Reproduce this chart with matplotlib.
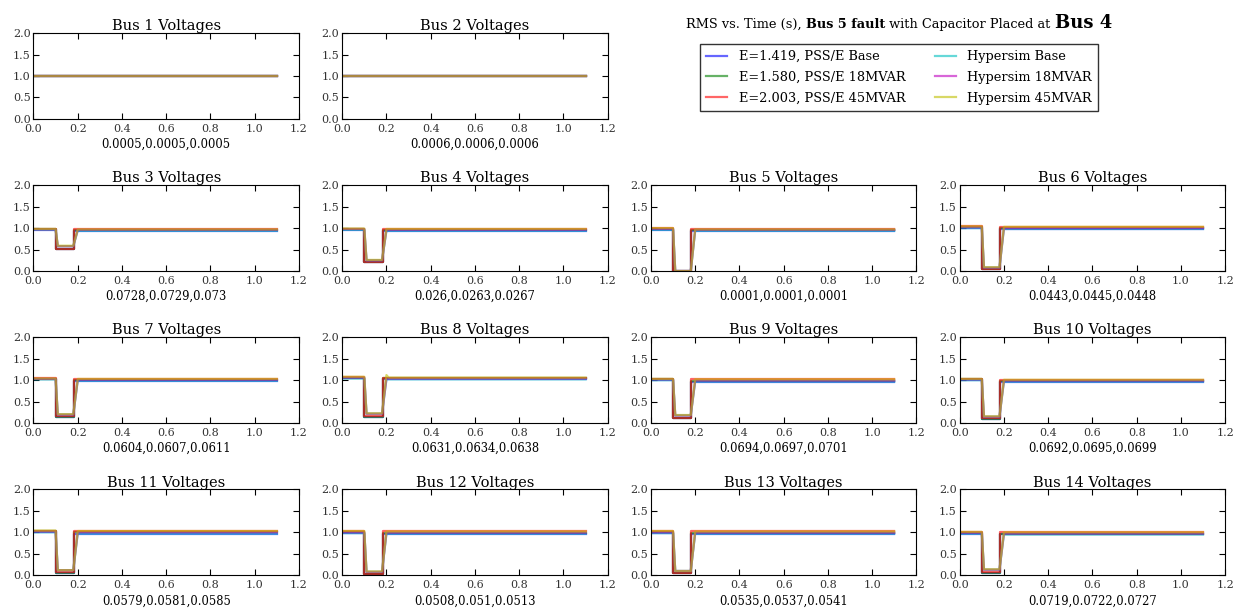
import matplotlib
matplotlib.use('Agg')
import matplotlib.pyplot as plt
import numpy as np

plt.rcParams['font.family'] = ['DejaVu Serif']

buses = list(range(1, 15))
series = ['E=1.419, PSS/E Base', 'E=1.580, PSS/E 18MVAR', 'E=2.003, PSS/E 45MVAR',
          'Hypersim Base', 'Hypersim 18MVAR', 'Hypersim 45MVAR']
colors = ['b', 'g', 'r', 'c', 'm', 'y']

# switching instants (s)
pss_t = [0.0, 0.1, 0.1, 0.183, 0.183, 1.1]
hyp_t = [0.0, 0.1, 0.11, 0.18, 0.2, 0.21, 1.1]

# per bus: (Base, 18MVAR, 45MVAR)
pre = [(1.0, 1.0, 1.0), (1.0, 1.0, 1.0), (0.96, 0.97, 0.98), (0.96, 0.98, 0.99),
       (0.96, 0.98, 1.0), (1.0, 1.02, 1.04), (1.02, 1.03, 1.04), (1.04, 1.06, 1.08),
       (1.0, 1.02, 1.03), (1.0, 1.02, 1.03), (1.0, 1.02, 1.04), (0.98, 1.0, 1.03),
       (0.98, 1.0, 1.03), (0.97, 0.99, 1.01)]
pss_fault = [(1.0, 1.0, 1.0), (1.0, 1.0, 1.0), (0.52, 0.52, 0.52), (0.21, 0.22, 0.22),
             (0.0, 0.0, 0.0), (0.04, 0.04, 0.05), (0.15, 0.15, 0.16), (0.15, 0.15, 0.16),
             (0.11, 0.12, 0.12), (0.1, 0.1, 0.11), (0.06, 0.06, 0.07), (0.03, 0.03, 0.04),
             (0.05, 0.05, 0.05), (0.06, 0.06, 0.07)]
hyp_fault = [(1.0, 1.0, 1.0), (1.0, 1.0, 1.0), (0.58, 0.58, 0.59), (0.25, 0.25, 0.26),
             (0.0, 0.0, 0.0), (0.08, 0.08, 0.09), (0.2, 0.2, 0.21), (0.22, 0.22, 0.23),
             (0.18, 0.18, 0.19), (0.15, 0.15, 0.16), (0.12, 0.12, 0.12), (0.08, 0.08, 0.09),
             (0.1, 0.1, 0.1), (0.13, 0.13, 0.14)]
post = [(1.0, 1.0, 1.0), (1.0, 1.0, 1.0), (0.94, 0.96, 0.97), (0.94, 0.96, 0.98),
        (0.94, 0.96, 0.97), (0.98, 1.0, 1.03), (0.99, 1.01, 1.03), (1.02, 1.04, 1.06),
        (0.97, 0.99, 1.02), (0.97, 0.99, 1.01), (0.97, 1.0, 1.03), (0.97, 0.99, 1.02),
        (0.97, 0.99, 1.02), (0.95, 0.97, 1.0)]
hyp_peak = {8: (None, None, 1.12)}  # overshoot on recovery

errors = ['0.0005,0.0005,0.0005', '0.0006,0.0006,0.0006', '0.0728,0.0729,0.073',
          '0.026,0.0263,0.0267', '0.0001,0.0001,0.0001', '0.0443,0.0445,0.0448',
          '0.0604,0.0607,0.0611', '0.0631,0.0634,0.0638', '0.0694,0.0697,0.0701',
          '0.0692,0.0695,0.0699', '0.0579,0.0581,0.0585', '0.0508,0.051,0.0513',
          '0.0535,0.0537,0.0541', '0.0719,0.0722,0.0727']

fig = plt.figure(figsize=(12.4, 6.12), dpi=100)
gs = fig.add_gridspec(4, 4, left=0.027, right=0.988, top=0.946, bottom=0.06,
                      hspace=0.77, wspace=0.163)

handles = []
for i, bus in enumerate(buses):
    if i < 2:
        ax = fig.add_subplot(gs[0, i])
    else:
        ax = fig.add_subplot(gs[(i - 2) // 4 + 1, (i - 2) % 4])
    lines = []
    for k in range(3):
        v = [pre[i][k], pre[i][k], pss_fault[i][k], pss_fault[i][k], post[i][k], post[i][k]]
        l, = ax.plot(pss_t, v, color=colors[k], lw=1.6, alpha=0.6)
        lines.append(l)
    for k in range(3):
        pk = hyp_peak.get(bus, (None,) * 3)[k]
        if pk is None:
            pk = post[i][k]
        v = [pre[i][k], pre[i][k], hyp_fault[i][k], hyp_fault[i][k], pk, post[i][k], post[i][k]]
        l, = ax.plot(hyp_t, v, color=colors[3 + k], lw=1.6, alpha=0.6)
        lines.append(l)
    if i == 0:
        handles = lines
    ax.set_xlim(0, 1.2)
    ax.set_ylim(0, 2.0)
    ax.set_xticks(np.arange(0, 1.21, 0.2))
    ax.set_yticks(np.arange(0, 2.01, 0.5))
    ax.tick_params(direction='in', top=True, right=True, labelsize=8, length=4,
                   labelcolor='#333333')
    ax.tick_params(axis='x', pad=3.5)
    ax.tick_params(axis='y', pad=2)
    ax.set_title('Bus %d Voltages' % bus, fontsize=10.5, pad=2)
    ax.set_xlabel(errors[i], fontsize=8.3, labelpad=3)

leg = fig.legend(handles, series, loc='center', bbox_to_anchor=(899 / 1240, 1 - 77.5 / 612),
                 ncol=2, fancybox=False, edgecolor='black', fontsize=9.3,
                 handlelength=1.6, handletextpad=0.9, columnspacing=2.3,
                 labelspacing=0.6, borderpad=0.45)
leg.get_frame().set_linewidth(1.0)

# title in pieces (mixed weight / size)
parts = [('RMS vs. Time (s), ', 'normal', 9.3), ('Bus 5 fault', 'bold', 9.3),
         (' with Capacitor Placed at ', 'normal', 9.3), ('Bus 4', 'bold', 13)]
ty = 1 - 28 / 612
txts = [fig.text(0.5, ty, s, fontweight=w, fontsize=fs, va='baseline', ha='left')
        for s, w, fs in parts]
fig.canvas.draw()
r = fig.canvas.get_renderer()
widths = [t.get_window_extent(r).width / fig.bbox.width for t in txts]
x = 899 / 1240 - sum(widths) / 2
for t, w in zip(txts, widths):
    t.set_position((x, ty))
    x += w

fig.savefig('out.png', dpi=100)
